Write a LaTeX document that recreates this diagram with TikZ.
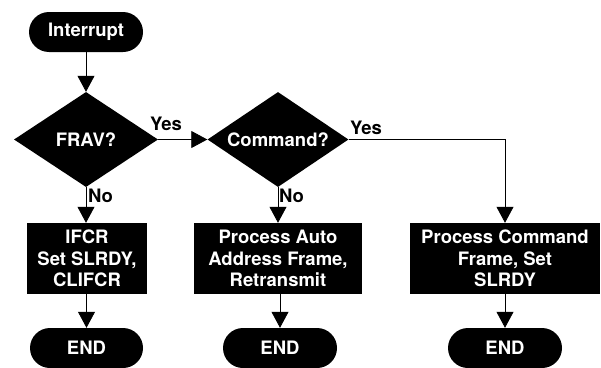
\documentclass[tikz,border=0pt]{standalone}
\usepackage{fontspec}
\setmainfont{TeX Gyre Heros}
\usetikzlibrary{shapes.geometric,arrows.meta}
\begin{document}
\begin{tikzpicture}[x=1pt,y=-1pt,
  base/.style={fill=black,text=white,font=\fontsize{18.5}{21.5}\selectfont\bfseries,inner sep=0pt,align=center},
  term/.style={base,rectangle,rounded corners=20pt,minimum width=114pt,minimum height=40pt},
  dec/.style={base,diamond,aspect=1.5,minimum height=95pt},
  proc/.style={base,rectangle,minimum height=71pt},
  conn/.style={line width=0.8pt,-{Triangle[width=17pt,length=16pt]}},
  lab/.style={inner sep=0pt,font=\fontsize{18.5}{21.5}\selectfont\bfseries,anchor=base west}]
\useasboundingbox (0,0) rectangle (601,367);
\node[term] (int) at (86,32) {Interrupt};
\node[dec,minimum width=144pt] (frav) at (86,139.5) {FRAV?};
\node[dec,minimum width=141pt] (cmd) at (278,139.5) {Command?};
\node[proc,minimum width=120pt] (ifcr) at (87,258.5) {IFCR\\Set SLRDY,\\CLIFCR};
\node[proc,minimum width=168pt] (auto) at (278,258.5) {Process Auto\\Address Frame,\\Retransmit};
\node[proc,minimum width=190pt] (pcmd) at (505,258.5) {Process Command\\Frame, Set\\SLRDY};
\node[term,minimum width=113pt] (end1) at (86.5,348) {END};
\node[term] (end2) at (280,348) {END};
\node[term] (end3) at (505,348) {END};
\coordinate (c1) at (pcmd.north |- cmd.east);
\draw[conn] (int.south) -- (frav.north);
\draw[conn] (frav.east) -- (cmd.west);
\draw[conn] (cmd.east) -- (c1) -- (pcmd.north);
\draw[conn] (frav.south) -- (frav.south |- ifcr.north);
\draw[conn] (cmd.south) -- (auto.north);
\draw[conn] (ifcr.south -| end1.north) -- (end1.north);
\draw[conn] (auto.south -| end2.north) -- (end2.north);
\draw[conn] (pcmd.south) -- (end3.north);
\node[lab] (yes1) at (150,130) {Yes};
\node[lab] (yes2) at (350,134) {Yes};
\node[lab] (no1) at (88,202) {No};
\node[lab] (no2) at (279,202) {No};
\end{tikzpicture}
\end{document}
